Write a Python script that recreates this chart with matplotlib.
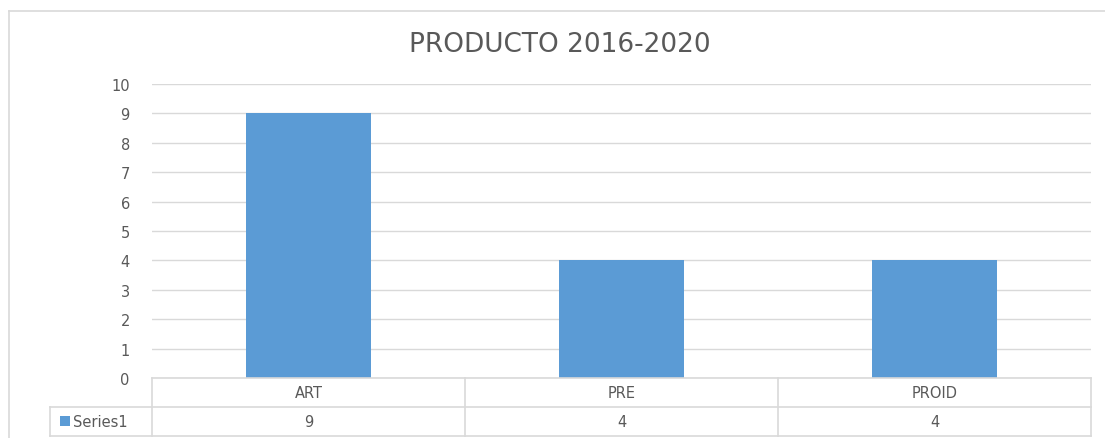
import matplotlib.pyplot as plt
from matplotlib.lines import Line2D
from matplotlib.patches import Rectangle

categories = ["ART", "PRE", "PROID"]
values = [9, 4, 4]
series_name = "Series1"
title = "PRODUCTO 2016-2020"

BAR = "#5B9BD5"
TXT = "#595959"
GRID = "#D9D9D9"
FONT = "DejaVu Sans"

W, H = 1105, 439
fig = plt.figure(figsize=(W / 100, H / 100), dpi=100)


def fx(px):
    return px / W


def fy(py):
    return 1 - py / H


# plot area
left, right, top, bottom = 152, 1091, 85, 379
ax = fig.add_axes([fx(left), fy(bottom), fx(right - left), fy(top) - fy(bottom)])
x = list(range(len(categories)))
ax.bar(x, values, width=0.4, color=BAR, zorder=3)
ax.set_xlim(-0.5, len(categories) - 0.5)
ax.set_ylim(0, 10)
ax.set_yticks(range(0, 11))
ax.yaxis.grid(True, color=GRID, linewidth=1, zorder=0)
ax.set_xticks([])
for s in ax.spines.values():
    s.set_visible(False)
ax.tick_params(axis="y", length=0, pad=16, labelsize=10.5, labelcolor=TXT)
for lab in ax.get_yticklabels():
    lab.set_fontfamily(FONT)

# title
fig.text(fx(560), fy(45), title, ha="center", va="center",
         fontsize=19, color=TXT, family=FONT)


def hline(x0, x1, y):
    fig.add_artist(Line2D([fx(x0), fx(x1)], [fy(y), fy(y)], color=GRID,
                          linewidth=1.2, transform=fig.transFigure))


def vline(xp, y0, y1):
    fig.add_artist(Line2D([fx(xp), fx(xp)], [fy(y0), fy(y1)], color=GRID,
                          linewidth=1.2, transform=fig.transFigure))


# outer chart border (top and left visible only)
hline(9, W + 5, 12)
vline(9, 12, H + 5)

# data table
row0, row1, row2 = 379, 408, 437
col_w = (right - left) / len(categories)

hline(left, right, row0)
hline(50, right, row1)
hline(50, right, row2)
vline(50, row1, row2)
for i in range(len(categories) + 1):
    vline(left + i * col_w, row0, row2)

for i, (cat, v) in enumerate(zip(categories, values)):
    cx = left + (i + 0.5) * col_w
    fig.text(fx(cx), fy((row0 + row1) / 2), cat, ha="center", va="center",
             fontsize=10.5, color=TXT, family=FONT)
    fig.text(fx(cx), fy((row1 + row2) / 2), str(v), ha="center", va="center",
             fontsize=10.5, color=TXT, family=FONT)

fig.add_artist(Rectangle((fx(60), fy(427)), fx(10), fy(417) - fy(427),
                         facecolor=BAR, edgecolor="none",
                         transform=fig.transFigure))
fig.text(fx(73), fy((row1 + row2) / 2), series_name, ha="left", va="center",
         fontsize=10.5, color=TXT, family=FONT)

fig.savefig("out.png", dpi=100)
